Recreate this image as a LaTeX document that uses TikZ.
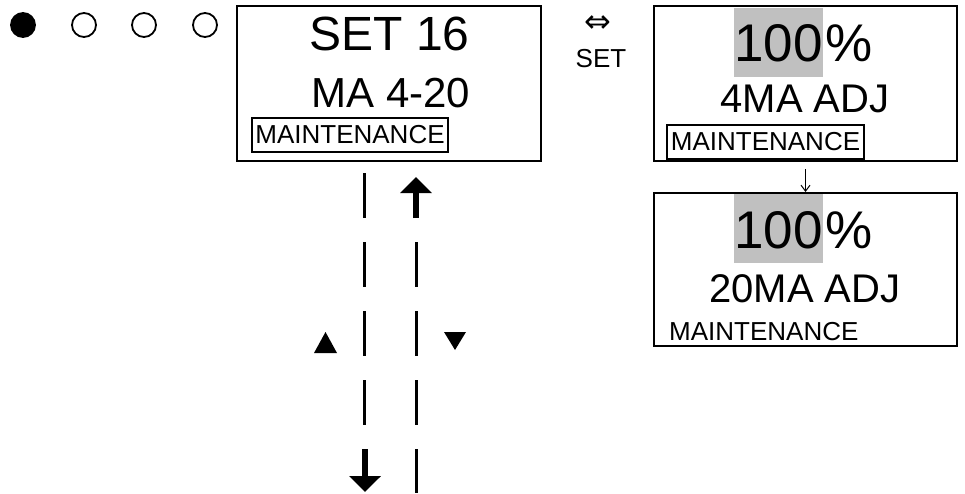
\documentclass[tikz,border=0pt]{standalone}
\usepackage{fontspec}
\setmainfont{Liberation Sans}
\newfontfamily\symfont{DejaVu Sans}
\usetikzlibrary{arrows.meta}
\definecolor{hl}{HTML}{C0C0C0}
\tikzset{
  panel/.style={draw, line width=2pt, inner sep=0pt, minimum width=303pt},
  tagbox/.style={draw, line width=2pt, inner sep=0pt, minimum height=34pt, font=\fontsize{26}{26}\selectfont},
  big/.style={inner sep=0pt, anchor=base, font=\fontsize{#1}{#1}\selectfont},
  hlnum/.style={fill=hl, inner sep=0pt, anchor=base east, text height=54pt, text depth=15pt, font=\fontsize{53}{53}\selectfont},
  pct/.style={inner sep=0pt, anchor=base west, xshift=2pt, font=\fontsize{53}{53}\selectfont},
  dashline/.style={line width=3pt, dash pattern=on 45pt off 24pt},
  fatarrow/.style={line width=6pt, -{Triangle[width=31pt,length=16pt]}},
  dot/.style={circle, draw, line width=1.8pt, minimum size=24pt, inner sep=0pt}
}
\begin{document}
\begin{tikzpicture}[x=1pt,y=-1pt]
\useasboundingbox (0,0) rectangle (965,493);
% status dots
\node[dot, fill=black] (d1) at (23,25) {};
\node[dot] (d2) at (84,25) {};
\node[dot] (d3) at (144,25) {};
\node[dot] (d4) at (205,25) {};
% box 1
\node[panel, minimum width=304pt, minimum height=155pt] (b1) at (389,83.5) {};
\node[big=48] (t1a) at (389.5,50) {SET 16};
\node[big=42] (t1b) at (391,107) {MA 4-20};
\node[tagbox, minimum width=196pt] (t1c) at (350,134.5) {MAINTENANCE};
% set label
\node[inner sep=0pt, font=\symfont\fontsize{32}{32}\selectfont] (lr) at (597.5,24) {⇔};
\node[big=26] (setl) at (601,67) {SET};
% box 2
\node[panel, minimum height=155pt] (b2) at (805.5,83.5) {};
\node[hlnum] (n2) at (823,61.5) {100};
\node[pct] (p2) at (n2.base east) {\%};
\node[big=40] (t2b) at (805,112) {4MA ADJ};
\node[tagbox, minimum width=197pt] (t2c) at (765.5,142) {MAINTENANCE};
% box 3
\node[panel, minimum height=153pt] (b3) at (805.5,269.5) {};
\node[hlnum] (n3) at (823,248) {100};
\node[pct] (p3) at (n3.base east) {\%};
\node[big=40] (t3b) at (805,302) {20MA ADJ};
\node[inner sep=0pt, anchor=base west, font=\fontsize{26}{26}\selectfont] (t3c) at (669,340) {MAINTENANCE};
% arrow between box 2 and 3
\draw[line width=1pt, -{Straight Barb[width=9pt,length=6pt]}, shorten <=7pt] (b2.south) -- (b3.north);
% left column
\coordinate (l0) at (364,173);
\coordinate (l1) at (364,426);
\coordinate (l2) at (365,449);
\coordinate (l3) at (365,492);
\draw[dashline] (l0) -- (l1);
\draw[fatarrow] (l2) -- (l3);
% right column
\coordinate (r0) at (416,218);
\coordinate (r1) at (416,177);
\coordinate (r2) at (416,242);
\coordinate (r3) at (416,493);
\draw[fatarrow] (r0) -- (r1);
\draw[dashline] (r2) -- (r3);
% triangles
\fill (314,353) -- (337,353) -- (325.5,332) -- cycle;
\fill (444,332) -- (466,332) -- (455,350) -- cycle;
\end{tikzpicture}
\end{document}
